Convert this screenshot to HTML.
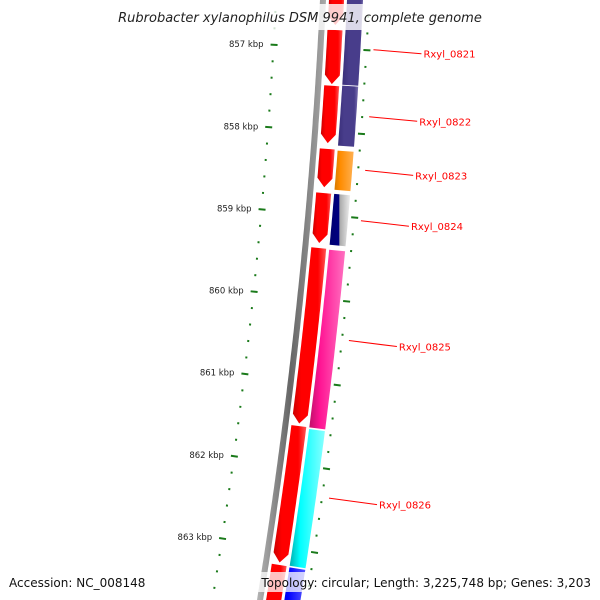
<!DOCTYPE html>
<html><head><meta charset="utf-8"><style>
html,body{margin:0;padding:0;background:#fff;width:600px;height:600px;overflow:hidden;}
svg{display:block;font-family:"DejaVu Sans","Liberation Sans",sans-serif;overflow:hidden;}
</style></head><body>
<svg id="map" width="600" height="600" viewBox="0 0 600 600" xmlns="http://www.w3.org/2000/svg">
<defs>
<linearGradient id="gGray" x1="0" x2="1" y1="0" y2="0"><stop offset="0" stop-color="#bbb"/><stop offset="0.5" stop-color="#666"/><stop offset="1" stop-color="#aaa"/></linearGradient>
<linearGradient id="gRed" x1="0" x2="1"><stop offset="0" stop-color="#c00"/><stop offset="0.25" stop-color="#f00"/><stop offset="0.75" stop-color="#f00"/><stop offset="1" stop-color="#f55"/></linearGradient>
<linearGradient id="gPurple" x1="0" x2="1"><stop offset="0" stop-color="#3a2f7a"/><stop offset="0.3" stop-color="#483d8b"/><stop offset="0.8" stop-color="#483d8b"/><stop offset="1" stop-color="#7a70b0"/></linearGradient>
<linearGradient id="gOrange" x1="0" x2="1"><stop offset="0" stop-color="#d77a00"/><stop offset="0.3" stop-color="#ff8c00"/><stop offset="1" stop-color="#ffb050"/></linearGradient>
<linearGradient id="gNavy" x1="0" x2="1"><stop offset="0" stop-color="#000070"/><stop offset="0.45" stop-color="#000080"/><stop offset="0.5" stop-color="#aaa"/><stop offset="1" stop-color="#eee"/></linearGradient>
<linearGradient id="gPink" x1="0" x2="1"><stop offset="0" stop-color="#c0106a"/><stop offset="0.3" stop-color="#ff1493"/><stop offset="1" stop-color="#ff70c0"/></linearGradient>
<linearGradient id="gCyan" x1="0" x2="1"><stop offset="0" stop-color="#00b0b0"/><stop offset="0.3" stop-color="#0ff"/><stop offset="1" stop-color="#8ff"/></linearGradient>
<linearGradient id="gBlue" x1="0" x2="1"><stop offset="0" stop-color="#00c"/><stop offset="0.3" stop-color="#00f"/><stop offset="1" stop-color="#55f"/></linearGradient>
</defs>
<g id="layer"></g>
</svg>
<script>
// ---- data ----
const tickKbp = [857, 858, 859, 860, 861, 862, 863];
const tickLabels = ["857 kbp","858 kbp","859 kbp","860 kbp","861 kbp","862 kbp","863 kbp"];
// forward strand CDS (red, arrow at end)
const fwdStarts = [856.0, 856.78, 857.45, 858.21, 858.74, 859.40, 861.54, 863.21];
const fwdEnds   = [856.72, 857.43, 858.14, 858.67, 859.34, 861.51, 863.18, 864.5];
// second track genes
const geneStarts = [856.0, 857.44, 858.22, 858.74, 859.41, 861.56, 863.22];
const geneEnds   = [857.43, 858.16, 858.69, 859.35, 861.54, 863.20, 864.5];
const geneFills  = ["gPurple","gPurple","gOrange","gNavy","gPink","gCyan","gBlue"];
const labelNames = ["Rxyl_0821","Rxyl_0822","Rxyl_0823","Rxyl_0824","Rxyl_0825","Rxyl_0826"];
const labelAnchorKbp = [856.99, 857.79, 858.43, 859.03, 860.46, 862.34];

// ---- geometry ----
const NS = "http://www.w3.org/2000/svg";
const layer = document.getElementById("layer");
const S0 = 47.5, PX = 83;
function sOf(k){ return S0 + (k - 857) * PX; }
function cx(s){ return 323 - 0.0484*s - 9.43e-5*s*s; }
function dcx(s){ return -0.0484 - 2*9.43e-5*s; }
function pt(s, d){ const t=dcx(s); const n=Math.sqrt(1+t*t); return [cx(s)+d*(1/n), s + d*(-t/n)]; }
function band(s1, s2, d1, d2, arrow){
  const pts=[]; const step=4;
  const se = arrow ? s2-9 : s2;
  for(let s=s1; s<se; s+=step) pts.push(pt(s,d2));
  pts.push(pt(se,d2));
  if(arrow){ pts.push(pt(s2,(d1+d2)/2)); }
  pts.push(pt(se,d1));
  for(let s=se; s>s1; s-=step) pts.push(pt(s,d1));
  pts.push(pt(s1,d1));
  return pts.map(p=>Math.max(-5,Math.min(605,p[0])).toFixed(1)+","+Math.max(-5,Math.min(605,p[1])).toFixed(1)).join(" ");
}
function mk(tag, attrs){ const e=document.createElementNS(NS,tag); for(const k in attrs) e.setAttribute(k,attrs[k]); layer.appendChild(e); return e; }

let bb = mk("polygon",{points:band(-20,620,-3,3,false),fill:"url(#gGray)"});



for(let i=0;i<fwdStarts.length;i++){
  const p = mk("polygon",{points:band(sOf(fwdStarts[i]),Math.min(620,sOf(fwdEnds[i])),6,21,fwdEnds[i]<864),fill:"url(#gRed)"});
  
  
}
for(let i=0;i<geneStarts.length;i++){
  const p = mk("polygon",{points:band(sOf(geneStarts[i]),Math.min(620,sOf(geneEnds[i])),24,40,false),fill:"url(#"+geneFills[i]+")"});
  
  
}
for(let k=855.8;k<=864.4;k+=0.2){
  const kk=Math.round(k*10)/10;
  const major=Math.abs(kk-Math.round(kk))<0.01;
  const s=sOf(kk);
  const [a1,b1]=pt(s, major?-50:-48), [a2,b2]=pt(s, major?-43:-46);
  if(b1>0 && b1<600){
    const t1=mk("line",{x1:a1,y1:b1,x2:a2,y2:b2,stroke:"#1a7a1a","stroke-width":2});
    
    
  }
  const [c1,e1]=pt(s, major?43:45), [c2,e2]=pt(s, major?50:47);
  if(e1>0 && e1<600){
    const t2=mk("line",{x1:c1,y1:e1,x2:c2,y2:e2,stroke:"#1a7a1a","stroke-width":2});
    
    
  }
}
for(let i=0;i<tickKbp.length;i++){
  const [x,y]=pt(sOf(tickKbp[i]),-57);
  const t=mk("text",{x:x,y:y+3,"font-size":8.5,"text-anchor":"end",fill:"#222"});
  t.textContent=tickLabels[i];
  
  
}
for(let i=0;i<labelNames.length;i++){
  const [x1,y1]=pt(sOf(labelAnchorKbp[i]),53);
  const x2=x1+48, y2=y1+4+i*0.5;
  const l=mk("line",{x1:x1,y1:y1,x2:x2,y2:y2,stroke:"#f00","stroke-width":1});
  
  
  const t=mk("text",{x:x2+2,y:y2+4,"font-size":10,fill:"#f00"});
  t.textContent=labelNames[i];
  
  
}
let r=mk("rect",{x:105,y:4,width:390,height:26,fill:"#fff","fill-opacity":0.8});


let ti=mk("text",{x:300,y:22,"font-size":13,"font-style":"italic","text-anchor":"middle",fill:"#222"});
ti.textContent="Rubrobacter xylanophilus DSM 9941, complete genome";


let r2=mk("rect",{x:258,y:572,width:342,height:20,fill:"#fff","fill-opacity":0.75});


let f1=mk("text",{x:9,y:587,"font-size":12,fill:"#111"});
f1.textContent="Accession: NC_008148";


let f2=mk("text",{x:591,y:587,"font-size":12,"text-anchor":"end",fill:"#111"});
f2.textContent="Topology: circular; Length: 3,225,748 bp; Genes: 3,203";


</script>
</body></html>
